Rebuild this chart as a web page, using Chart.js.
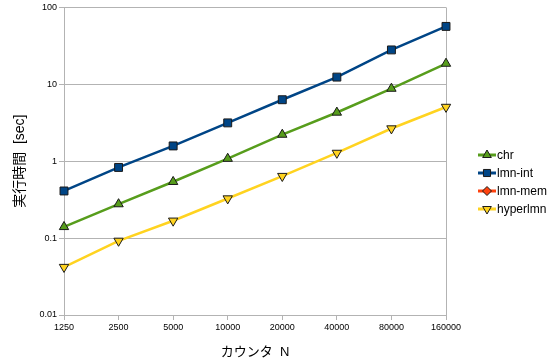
<!DOCTYPE html>
<html>
<head>
<meta charset="utf-8">
<script src="https://cdn.jsdelivr.net/npm/chart.js@4/dist/chart.umd.min.js"></script>
<style>
  html, body { margin: 0; padding: 0; background: #fff; }
  #wrap { width: 559px; height: 360px; }
</style>
</head>
<body>
<div id="wrap"><canvas id="chart" width="559" height="360"></canvas></div>
<script>
// Data
const counts = ['1250', '2500', '5000', '10000', '20000', '40000', '80000', '160000'];
const chrTimes = [0.14, 0.277, 0.54, 1.08, 2.22, 4.3, 8.8, 18.6];
const lmnIntTimes = [0.41, 0.83, 1.58, 3.15, 6.3, 12.4, 28, 56.6];
const lmnMemTimes = [null, null, null, null, null, null, null, null];
const hyperLmnTimes = [0.042, 0.092, 0.168, 0.327, 0.64, 1.28, 2.66, 5.07];
const yTicks = [0.01, 0.1, 1, 10, 100];

const FONT = '"Liberation Sans", "Noto Sans CJK JP", sans-serif';
const GRID = '#b3b3b3';

function series(label, data, color, style, rotation) {
  return {
    label: label,
    data: data,
    borderColor: color,
    backgroundColor: color,
    borderWidth: 2.5,
    pointStyle: style,
    pointRotation: rotation || 0,
    pointRadius: style === 'rect' ? 5.6 : 5.4,
    pointBorderColor: '#1a1a1a',
    pointBorderWidth: 1,
    pointBackgroundColor: color,
    tension: 0
  };
}

// Legend drawn by hand so each entry shows a line with its marker
const sideLegend = {
  id: 'sideLegend',
  afterDraw(chart) {
    const ctx = chart.ctx;
    const x = 487, y0 = 155, step = 18;
    ctx.save();
    chart.data.datasets.forEach((ds, i) => {
      const y = y0 + i * step;
      ctx.strokeStyle = ds.borderColor;
      ctx.lineWidth = 3;
      ctx.beginPath();
      ctx.moveTo(x - 9, y);
      ctx.lineTo(x + 9, y);
      ctx.stroke();
      ctx.fillStyle = ds.pointBackgroundColor;
      ctx.strokeStyle = '#1a1a1a';
      ctx.lineWidth = 1;
      const r = ds.pointStyle === 'rectRot' ? 4.5 : 5;
      Chart.helpers.drawPoint(ctx, { pointStyle: ds.pointStyle, rotation: ds.pointRotation, radius: r, borderWidth: 1 }, x, y);
      ctx.fillStyle = '#000';
      ctx.font = '12px ' + FONT;
      ctx.textBaseline = 'middle';
      ctx.textAlign = 'left';
      ctx.fillText(ds.label, x + 10, y + 1);
    });
    ctx.restore();
  }
};

new Chart(document.getElementById('chart'), {
  type: 'line',
  data: {
    labels: counts,
    datasets: [
      series('chr', chrTimes, '#579d1c', 'triangle', 0),
      series('lmn-int', lmnIntTimes, '#004586', 'rect', 0),
      series('lmn-mem', lmnMemTimes, '#ff420e', 'rectRot', 0),
      series('hyperlmn', hyperLmnTimes, '#ffd320', 'triangle', 180)
    ]
  },
  options: {
    responsive: false,
    animation: false,
    layout: { padding: { top: 7, right: 113, left: 0, bottom: 0 } },
    plugins: {
      legend: { display: false },
      tooltip: { enabled: false }
    },
    scales: {
      x: {
        type: 'category',
        offset: false,
        afterFit(scale) { scale.height = 45; },
        grid: {
          color: (c) => c.index === counts.length - 1 ? GRID : 'rgba(0,0,0,0)',
          tickColor: GRID,
          tickLength: 5,
          drawOnChartArea: true
        },
        border: { color: GRID, width: 1 },
        ticks: {
          color: '#000',
          font: { family: FONT, size: 9 },
          padding: 2,
          maxRotation: 0,
          autoSkip: false
        },
        title: {
          display: true,
          text: 'カウンタ  N',
          color: '#000',
          font: { family: FONT, size: 13 },
          padding: { top: 6, bottom: 0 }
        }
      },
      y: {
        type: 'logarithmic',
        min: 0.01,
        max: 100,
        afterFit(scale) { scale.width = 64; },
        afterBuildTicks(scale) {
          scale.ticks = yTicks.map(v => ({ value: v }));
        },
        grid: {
          color: GRID,
          tickColor: GRID,
          tickLength: 5
        },
        border: { color: GRID, width: 1 },
        ticks: {
          color: '#000',
          font: { family: FONT, size: 9 },
          padding: 2,
          callback: (v) => String(v)
        },
        title: {
          display: true,
          text: '実行時間  [sec]',
          color: '#000',
          font: { family: FONT, size: 14 },
          padding: { top: 12, bottom: 0 }
        }
      }
    }
  },
  plugins: [sideLegend]
});
</script>
</body>
</html>
